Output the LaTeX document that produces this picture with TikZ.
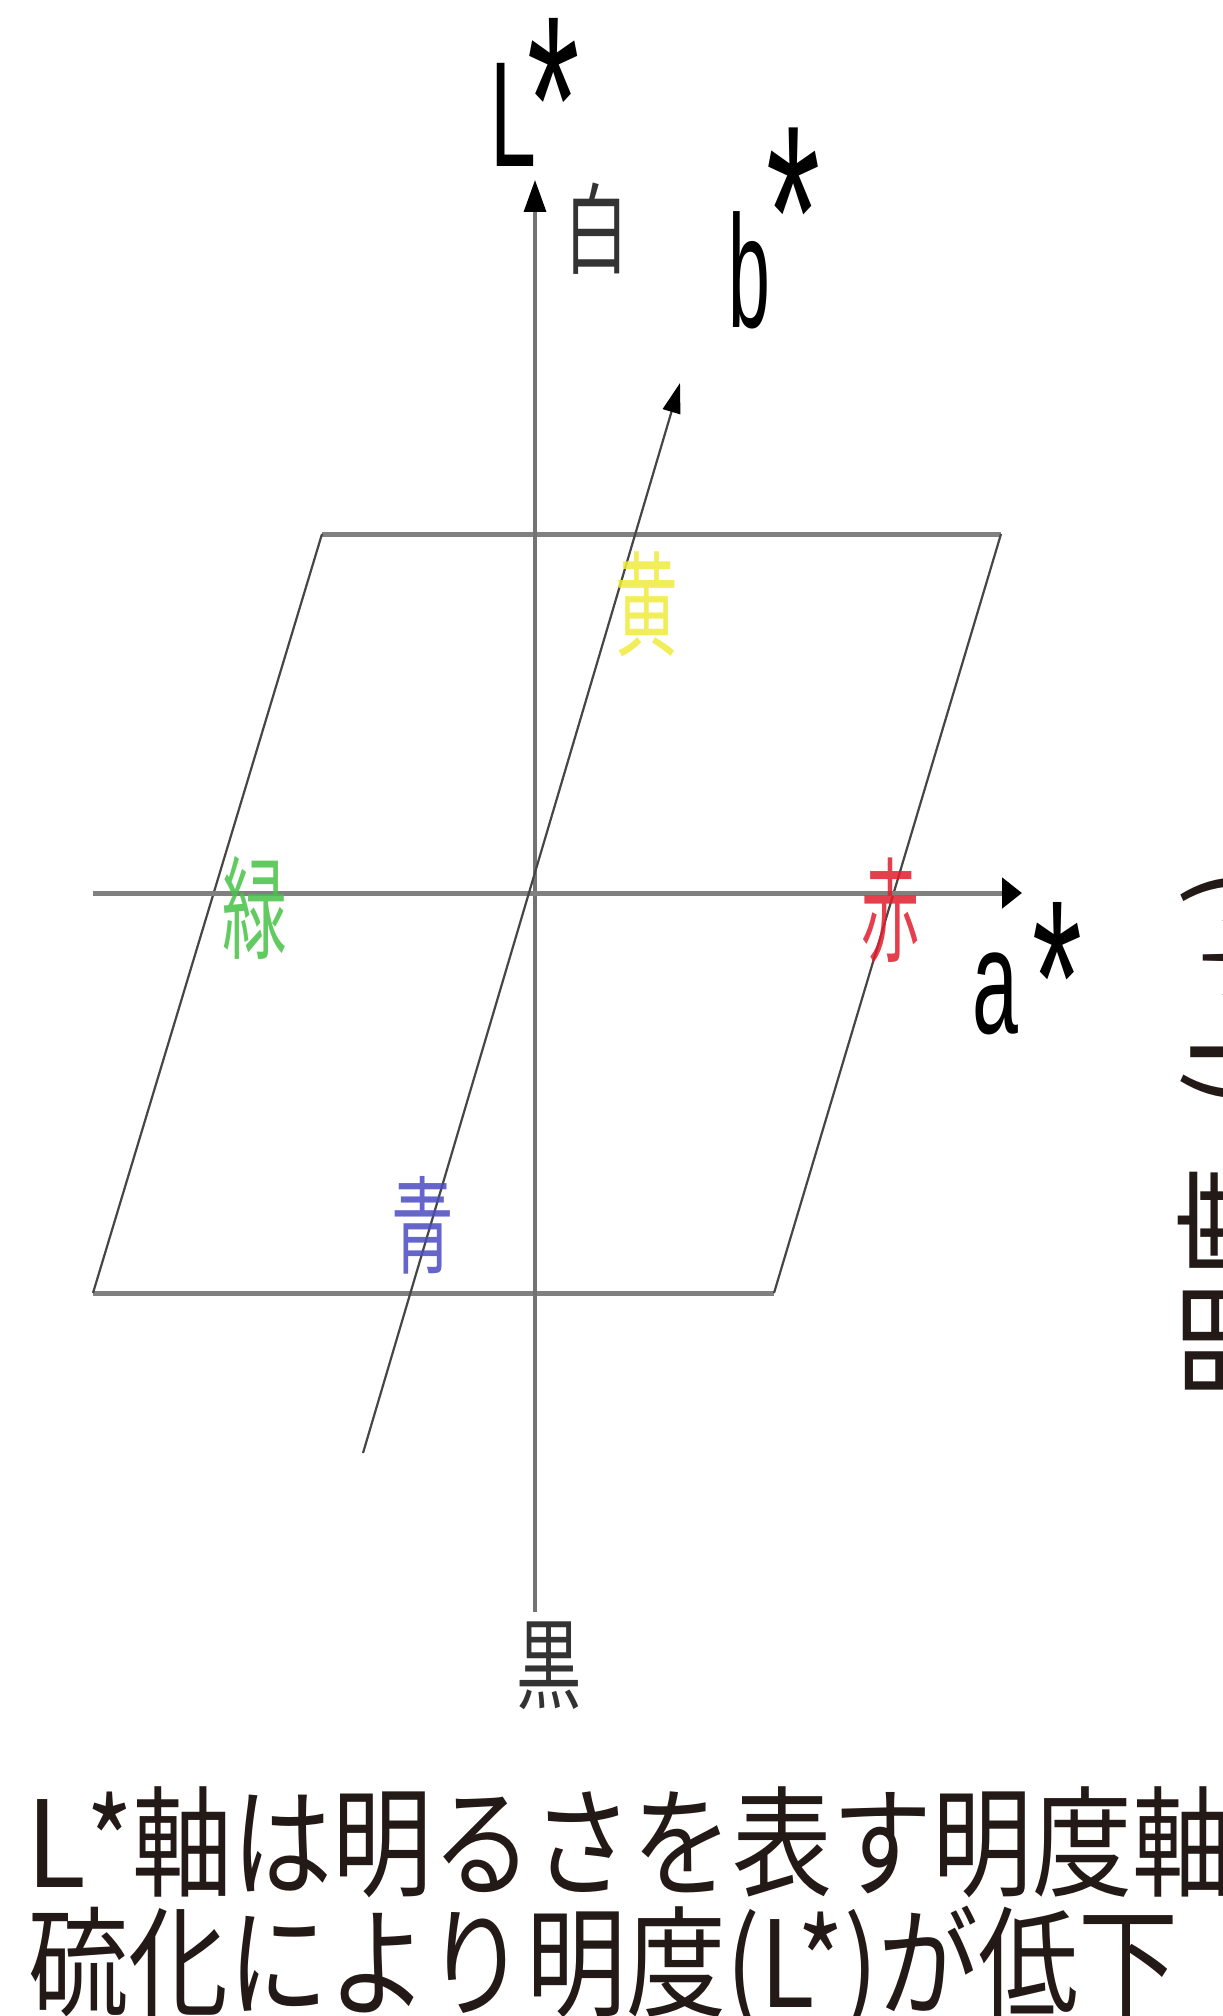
\documentclass[tikz,border=0pt]{standalone}
\usepackage{fontspec}
\usepackage{graphicx}
\setmainfont{Liberation Sans}
\newfontfamily\jp{Noto Sans CJK JP}
\usetikzlibrary{arrows.meta}
\definecolor{lgreen}{RGB}{70,195,70}
\definecolor{lred}{RGB}{225,30,45}
\definecolor{lblue}{RGB}{75,75,195}
\definecolor{lyellow}{RGB}{240,236,60}
\definecolor{axisgray}{RGB}{115,115,115}
\definecolor{hgray}{RGB}{128,128,128}
\definecolor{slantgray}{RGB}{70,70,70}
\definecolor{txt}{RGB}{35,25,22}
\newcommand\hsq[2]{\scalebox{#1}[1]{#2}}
\newcommand\vsq[2]{\scalebox{1}[#1]{#2}}
\begin{document}
\begin{tikzpicture}[x=0.5pt,y=-0.5pt,
  latin/.style={inner sep=0pt, anchor=base west, text=black},
  starlab/.style={inner sep=0pt, anchor=north, text=black},
  cjk/.style={inner sep=0pt, anchor=center},
  hline/.style={draw=hgray, line width=2.5pt},
  sline/.style={draw=slantgray, line width=1.1pt},
  vaxis/.style={draw=axisgray, line width=1.6pt},
  caption/.style={inner sep=0pt, anchor=base west, text=txt, font=\jp\fontsize{50}{50}\selectfont}]
\useasboundingbox (0,0) rectangle (1222,2016);
\clip (0,0) rectangle (1222,2016);
\fill[white] (0,0) rectangle (1222,2016);

% coordinates
\coordinate (P1) at (322,534);
\coordinate (P2) at (1001,534);
\coordinate (P3) at (774,1293);
\coordinate (P4) at (93,1293);
\coordinate (Lbot) at (535,1612);
\coordinate (Ltop) at (535,180);
\coordinate (aL) at (93,893);
\coordinate (aR) at (1022,893);
\coordinate (bB) at (363,1453);
\coordinate (bT) at (680,383);

% plane
\draw[hline] (P1) -- (P2);
\draw[hline] (P4) -- (P3);
\draw[sline] (P2) -- (P3);
\draw[sline] (P1) -- (P4);

% axes
\draw[vaxis, -{Triangle[length=16pt,width=11pt,color=black]}] (Lbot) -- (Ltop);
\draw[hline, -{Triangle[length=10pt,width=15pt,color=black]}] (aL) -- (aR);
\draw[sline, -{Triangle[length=15pt,width=9pt,color=black]}] (bB) -- (bT);

% axis labels
\node[latin, font=\fontsize{75}{75}\selectfont] (Lt) at (490,167) {\hsq{0.55}{L}};
\node[starlab, font=\fontsize{120}{120}\selectfont] (Ls) at (554,18) {\hsq{0.56}{*}};
\node[latin, font=\fontsize{80}{80}\selectfont] (bt) at (728,328) {\hsq{0.47}{b}};
\node[starlab, font=\fontsize{124}{124}\selectfont] (bs) at (794,127) {\hsq{0.56}{*}};
\node[latin, font=\fontsize{75}{75}\selectfont] (at) at (972,1033) {\hsq{0.55}{a}};
\node[starlab, font=\fontsize{110.5}{110.5}\selectfont] (as) at (1057,902) {\hsq{0.58}{*}};

% CJK labels
\node[cjk, text=black!80, font=\jp\fontsize{49.5}{49.5}\selectfont] (white) at (597,229) {\hsq{0.65}{白}};
\node[cjk, text=black!80, font=\jp\fontsize{49.5}{49.5}\selectfont] (black) at (549,1666) {\hsq{0.66}{黒}};
\node[cjk, text=lgreen, text opacity=0.85, font=\jp\fontsize{56}{56}\selectfont] (green) at (255,908) {\hsq{0.58}{緑}};
\node[cjk, text=lred, text opacity=0.85, font=\jp\fontsize{57}{57}\selectfont] (red) at (891,911) {\hsq{0.51}{赤}};
\node[cjk, text=lblue, text opacity=0.85, font=\jp\fontsize{53}{53}\selectfont] (blue) at (423,1225) {\hsq{0.59}{青}};
\node[cjk, text=lyellow, text opacity=0.85, font=\jp\fontsize{57}{57}\selectfont] (yellow) at (647,604) {\hsq{0.55}{黄}};

% rotated, clipped side label
\node[rotate=90, inner sep=0pt, anchor=base west, text=txt, font=\jp\fontsize{58.5}{58.5}\selectfont] (side) at (1276,1400)
  {\makebox[58.5pt][c]{明}\makebox[58.5pt][c]{度}\makebox[48pt][r]{(}\makebox[30pt][l]{L}\makebox[52pt][c]{\raisebox{-8pt}{＊}}\makebox[19pt][c]{)}};

% caption
\node[caption] (cap1) at (26,1887) {\vsq{1.2}{\hsq{1.1}{L}*軸は明るさを表す明度軸}};
\node[caption] (cap2) at (28,2007) {\vsq{1.2}{硫化により明度(L*)が低下}};
\end{tikzpicture}
\end{document}
